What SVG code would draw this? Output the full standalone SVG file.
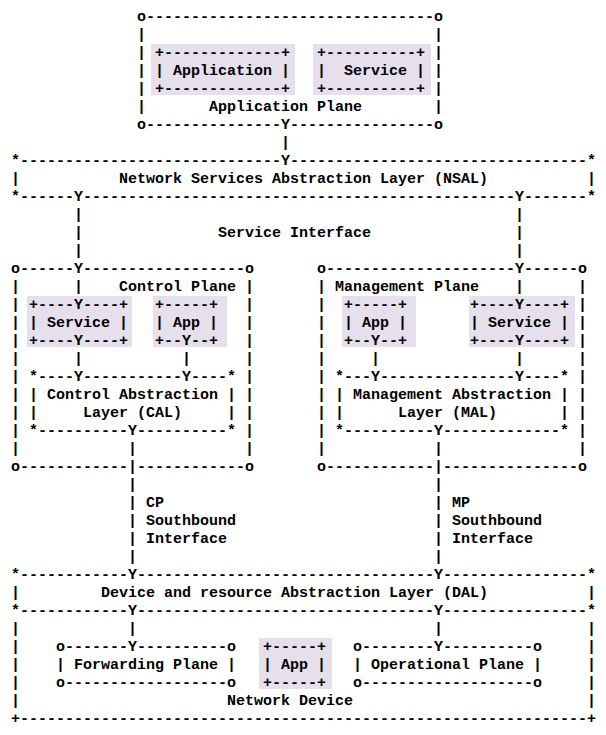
<svg xmlns="http://www.w3.org/2000/svg" width="606" height="735" viewBox="0 0 606 735" xml:space="preserve">
<style>
text{font-family:"Liberation Mono","Courier New",monospace;font-size:15px;font-weight:bold;fill:#000;white-space:pre}
.hl{fill:#e5e0ec}
</style>
<rect width="606" height="735" fill="#fff"/>

<g id="application-plane">
<text x="137" y="20.5">o--------------------------------o</text>
<text x="137 137 137 137 137" y="38.5 56.5 74.5 92.5 110.5">|||||</text>
<text x="434 434 434 434 434" y="38.5 56.5 74.5 92.5 110.5">|||||</text>
<text x="209" y="110.5">Application Plane</text>
<text x="137" y="128.5">o---------------Y----------------o</text>
</g>

<g id="app-application">
<rect class="hl" x="151" y="44" width="144" height="51"/>
<text x="155" y="56.5">+-------------+</text>
<text x="155" y="74.5">| Application |</text>
<text x="155" y="92.5">+-------------+</text>
</g>

<g id="app-service">
<rect class="hl" x="313" y="44" width="118" height="51"/>
<text x="317" y="56.5">+----------+</text>
<text x="317" y="74.5">|  Service |</text>
<text x="317" y="92.5">+----------+</text>
</g>

<g id="nsal">
<text x="11" y="164.5">*-----------------------------Y---------------------------------*</text>
<text x="11" y="182.5">|</text>
<text x="119" y="182.5">Network Services Abstraction Layer (NSAL)</text>
<text x="587" y="182.5">|</text>
<text x="11" y="200.5">*------Y------------------------------------------------Y-------*</text>
</g>

<g id="control-plane">
<text x="11" y="272.5">o------Y------------------o</text>
<text x="11 11 11 11 11 11 11 11 11 11" y="290.5 308.5 326.5 344.5 362.5 380.5 398.5 416.5 434.5 452.5">||||||||||</text>
<text x="245 245 245 245 245 245 245 245 245 245" y="290.5 308.5 326.5 344.5 362.5 380.5 398.5 416.5 434.5 452.5">||||||||||</text>
<text x="119" y="290.5">Control Plane</text>
<text x="11" y="470.5">o------------</text>
<text x="137" y="470.5">------------o</text>
</g>

<g id="cp-service">
<rect class="hl" x="27" y="296" width="105" height="51"/>
<text x="29" y="308.5">+----Y----+</text>
<text x="29" y="326.5">| Service |</text>
<text x="29" y="344.5">+----Y----+</text>
</g>

<g id="cp-app">
<rect class="hl" x="153" y="296" width="74" height="51"/>
<text x="155" y="308.5">+-----+</text>
<text x="155" y="326.5">| App |</text>
<text x="155" y="344.5">+--Y--+</text>
</g>

<g id="cal">
<text x="29" y="380.5">*----Y-----------Y----*</text>
<text x="29" y="398.5">| Control Abstraction |</text>
<text x="29" y="416.5">|     Layer (CAL)     |</text>
<text x="29" y="434.5">*----------Y----------*</text>
</g>

<g id="management-plane">
<text x="317" y="272.5">o---------------------Y------o</text>
<text x="317 317 317 317 317 317 317 317 317 317" y="290.5 308.5 326.5 344.5 362.5 380.5 398.5 416.5 434.5 452.5">||||||||||</text>
<text x="578 578 578 578 578 578 578 578 578 578" y="290.5 308.5 326.5 344.5 362.5 380.5 398.5 416.5 434.5 452.5">||||||||||</text>
<text x="335" y="290.5">Management Plane</text>
<text x="317" y="470.5">o------------</text>
<text x="443" y="470.5">---------------o</text>
</g>

<g id="mp-app">
<rect class="hl" x="342" y="296" width="74" height="51"/>
<text x="344" y="308.5">+-----+</text>
<text x="344" y="326.5">| App |</text>
<text x="344" y="344.5">+--Y--+</text>
</g>

<g id="mp-service">
<rect class="hl" x="469" y="296" width="106" height="51"/>
<text x="470" y="308.5">+----Y----+</text>
<text x="470" y="326.5">| Service |</text>
<text x="470" y="344.5">+----Y----+</text>
</g>

<g id="mal">
<text x="335" y="380.5">*---Y---------------Y----*</text>
<text x="335" y="398.5">| Management Abstraction |</text>
<text x="335" y="416.5">|      Layer (MAL)       |</text>
<text x="335" y="434.5">*----------Y-------------*</text>
</g>

<g id="dal">
<text x="11" y="578.5">*------------Y---------------------------------Y----------------*</text>
<text x="11" y="596.5">|</text>
<text x="101" y="596.5">Device and resource Abstraction Layer (DAL)</text>
<text x="587" y="596.5">|</text>
<text x="11" y="614.5">*------------Y---------------------------------Y----------------*</text>
</g>

<g id="network-device">
<text x="11 11 11 11 11" y="632.5 650.5 668.5 686.5 704.5">|||||</text>
<text x="587 587 587 587 587" y="632.5 650.5 668.5 686.5 704.5">|||||</text>
<text x="227" y="704.5">Network Device</text>
<text x="11" y="722.5">+---------------------------------------------------------------+</text>
</g>

<g id="forwarding-plane">
<text x="56" y="650.5">o-------Y----------o</text>
<text x="56" y="668.5">| Forwarding Plane |</text>
<text x="56" y="686.5">o------------------o</text>
</g>

<g id="nd-app">
<rect class="hl" x="259" y="638" width="73" height="51"/>
<text x="263" y="650.5">+-----+</text>
<text x="263" y="668.5">| App |</text>
<text x="263" y="686.5">+-----+</text>
</g>

<g id="operational-plane">
<text x="353" y="650.5">o--------Y----------o</text>
<text x="353" y="668.5">| Operational Plane |</text>
<text x="353" y="686.5">o-------------------o</text>
</g>

<g id="connectors">
<text x="281" y="146.5">|</text>
<text x="74 74 74" y="218.5 236.5 254.5">|||</text>
<text x="515 515 515" y="218.5 236.5 254.5">|||</text>
<text x="218" y="236.5">Service Interface</text>
<text x="74" y="290.5">|</text>
<text x="515" y="290.5">|</text>
<text x="74" y="362.5">|</text>
<text x="182" y="362.5">|</text>
<text x="371" y="362.5">|</text>
<text x="515" y="362.5">|</text>
<text x="128 128 128 128 128 128 128" y="452.5 470.5 488.5 506.5 524.5 542.5 560.5">|||||||</text>
<text x="434 434 434 434 434 434 434" y="452.5 470.5 488.5 506.5 524.5 542.5 560.5">|||||||</text>
<text x="146" y="506.5">CP</text>
<text x="146" y="524.5">Southbound</text>
<text x="146" y="542.5">Interface</text>
<text x="452" y="506.5">MP</text>
<text x="452" y="524.5">Southbound</text>
<text x="452" y="542.5">Interface</text>
<text x="128" y="632.5">|</text>
<text x="434" y="632.5">|</text>
</g>
</svg>
